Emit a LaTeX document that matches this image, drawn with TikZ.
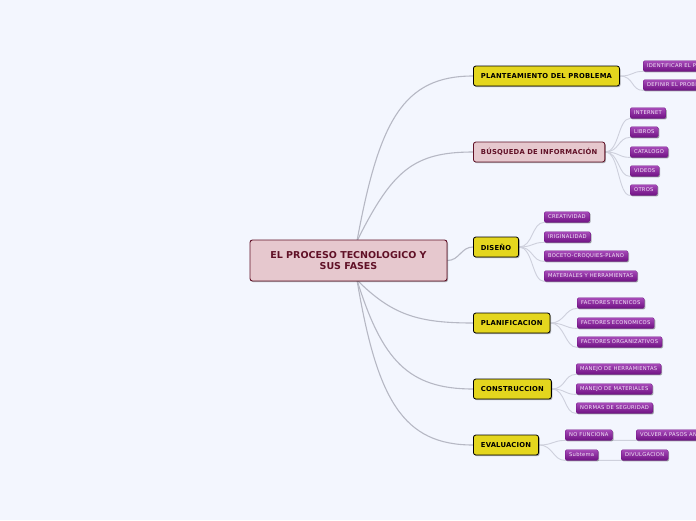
\documentclass[tikz,border=0pt]{standalone}
\usepackage{fontspec}
\setmainfont{DejaVu Sans}
\usetikzlibrary{shadows}
\definecolor{paper}{RGB}{243,246,254}
\definecolor{rootfill}{RGB}{230,200,206}
\definecolor{rootline}{RGB}{96,16,38}
\definecolor{topicfill}{RGB}{228,214,30}
\definecolor{leaftop}{RGB}{166,74,184}
\definecolor{leafbot}{RGB}{112,18,132}
\definecolor{leaftext}{RGB}{246,232,250}
\definecolor{branchc}{RGB}{182,184,196}
\definecolor{twigc}{RGB}{206,208,220}
\pgfdeclarelayer{paperlayer}
\pgfdeclarelayer{linklayer}
\pgfsetlayers{paperlayer,linklayer,main}
\tikzset{
  softshadow/.style={drop shadow={shadow xshift=1pt,shadow yshift=-1.2pt,opacity=.3,fill=black}},
  root/.style={draw=rootline,fill=rootfill,rounded corners=2.5pt,line width=.9pt,text=rootline,
    font=\bfseries\fontsize{9.5}{11.5}\selectfont,align=center,minimum width=197pt,minimum height=41pt,softshadow},
  topic/.style={draw=black,fill=topicfill,rounded corners=2.5pt,line width=.8pt,anchor=west,
    font=\bfseries\fontsize{6.8}{8}\selectfont\addfontfeatures{LetterSpace=3},minimum height=20pt,inner xsep=7.5pt,inner ysep=0pt,softshadow},
  pinktopic/.style={topic,draw=rootline,fill=rootfill,text=rootline},
  leaf/.style={top color=leaftop,bottom color=leafbot,draw=leafbot,line width=.3pt,rounded corners=1.5pt,
    text=leaftext,anchor=west,font=\fontsize{5.2}{6}\selectfont\addfontfeatures{LetterSpace=5},minimum height=10.5pt,inner xsep=4pt,inner ysep=0pt,softshadow},
  branch/.style={draw=branchc,line width=1.1pt},
  twig/.style={draw=twigc,line width=.9pt}
}

\begin{document}
\begin{tikzpicture}[x=1pt,y=-1pt]
  \useasboundingbox (0,0) rectangle (696,520);
  \clip (0,0) rectangle (696,520);
  \begin{pgfonlayer}{paperlayer}
    \fill[paper] (0,0) rectangle (696,520);
  \end{pgfonlayer}

  % central idea
  \node[root] (root) at (348.5,260.5) {EL PROCESO TECNOLOGICO Y\\SUS FASES};
  \coordinate (rtop) at (357,241);
  \coordinate (rbot) at (357,280);

  % main branches
  \node[topic] (plan) at (473,76) {PLANTEAMIENTO DEL PROBLEMA};
  \node[pinktopic] (busq) at (473,152) {BÚSQUEDA DE INFORMACIÓN};
  \node[topic] (dise) at (473,247) {DISEÑO};
  \node[topic] (plani) at (473,323) {PLANIFICACION};
  \node[topic] (cons) at (473,389) {CONSTRUCCION};
  \node[topic] (eval) at (473,445) {EVALUACION};

  \begin{pgfonlayer}{linklayer}
    \draw[branch] (rtop) .. controls +(22,-120) and +(-70,0) .. (plan.west);
    \draw[branch] (rtop) .. controls +(35,-70) and +(-60,0) .. (busq.west);
    \draw[branch] (root.east) .. controls +(12,0) and +(-12,0) .. (dise.west);
    \draw[branch] (rbot) .. controls +(35,35) and +(-55,0) .. (plani.west);
    \draw[branch] (rbot) .. controls +(25,80) and +(-65,0) .. (cons.west);
    \draw[branch] (rbot) .. controls +(20,120) and +(-70,0) .. (eval.west);
  \end{pgfonlayer}

  % sub topics
  \foreach \nm/\ty/\txt in {ident/66/IDENTIFICAR EL PROBLEMA, defin/85/DEFINIR EL PROBLEMA} {
    \node[leaf] (\nm) at (643,\ty) {\txt};
    \begin{pgfonlayer}{linklayer}
      \draw[twig] (plan.east) .. controls +(14,0) and +(-12,0) .. (\nm.south west) -- (\nm.south east);
    \end{pgfonlayer}
  }
  \foreach \nm/\ty/\txt in {inet/113/INTERNET, libr/132/LIBROS, cata/152/CATALOGO, vide/171/VIDEOS, otro/190/OTROS} {
    \node[leaf] (\nm) at (630,\ty) {\txt};
    \begin{pgfonlayer}{linklayer}
      \draw[twig] (busq.east) .. controls +(14,0) and +(-12,0) .. (\nm.south west) -- (\nm.south east);
    \end{pgfonlayer}
  }
  \foreach \nm/\ty/\txt in {crea/217/CREATIVIDAD, orig/237/IRIGINALIDAD, boce/256/BOCETO-CROQUIES-PLANO, mate/276/MATERIALES Y HERRAMIENTAS} {
    \node[leaf] (\nm) at (544,\ty) {\txt};
    \begin{pgfonlayer}{linklayer}
      \draw[twig] (dise.east) .. controls +(14,0) and +(-12,0) .. (\nm.south west) -- (\nm.south east);
    \end{pgfonlayer}
  }
  \foreach \nm/\ty/\txt in {ftec/303/FACTORES TECNICOS, feco/323/FACTORES ECONOMICOS, forg/342/FACTORES ORGANIZATIVOS} {
    \node[leaf] (\nm) at (577,\ty) {\txt};
    \begin{pgfonlayer}{linklayer}
      \draw[twig] (plani.east) .. controls +(14,0) and +(-12,0) .. (\nm.south west) -- (\nm.south east);
    \end{pgfonlayer}
  }
  \foreach \nm/\ty/\txt in {mher/369/MANEJO DE HERRAMIENTAS, mmat/389/MANEJO DE MATERIALES, nseg/408/NORMAS DE SEGURIDAD} {
    \node[leaf] (\nm) at (576,\ty) {\txt};
    \begin{pgfonlayer}{linklayer}
      \draw[twig] (cons.east) .. controls +(14,0) and +(-12,0) .. (\nm.south west) -- (\nm.south east);
    \end{pgfonlayer}
  }

  \node[leaf] (nofu) at (565,435) {NO FUNCIONA};
  \node[leaf] (volv) at (636,435) {VOLVER A PASOS ANTERIORES};
  \node[leaf] (subt) at (565,455) {Subtema};
  \node[leaf] (divu) at (621,455) {DIVULGACION};
  \begin{pgfonlayer}{linklayer}
    \draw[twig] (eval.east) .. controls +(14,0) and +(-12,0) .. (nofu.south west) -- (volv.south west) -- (volv.south east);
    \draw[twig] (eval.east) .. controls +(14,0) and +(-12,0) .. (subt.south west) -- (divu.south west) -- (divu.south east);
  \end{pgfonlayer}
\end{tikzpicture}
\end{document}
